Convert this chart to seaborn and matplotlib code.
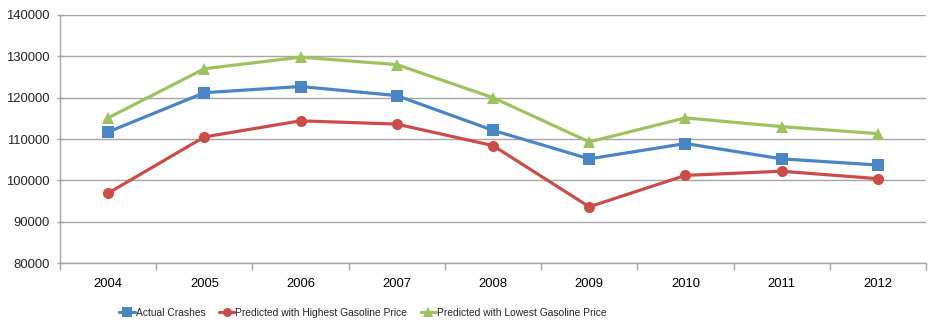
import matplotlib
matplotlib.use("Agg")
import matplotlib.pyplot as plt
import seaborn as sns
import pandas as pd
from matplotlib.ticker import FixedLocator
from matplotlib.lines import Line2D

years = ["2004", "2005", "2006", "2007", "2008", "2009", "2010", "2011", "2012"]
actual = [111700, 121200, 122700, 120500, 112100, 105200, 108900, 105200, 103700]
highest = [96900, 110500, 114400, 113600, 108400, 93600, 101200, 102200, 100400]
lowest = [115100, 127000, 129800, 128000, 120000, 109300, 115100, 113000, 111300]
series_names = ["Actual Crashes", "Predicted with Highest Gasoline Price",
                "Predicted with Lowest Gasoline Price"]
yticks = [80000, 90000, 100000, 110000, 120000, 130000, 140000]

colors = ["#4A85C6", "#CC4C4C", "#9CC35F"]
markers = ["s", "o", "^"]

df = pd.DataFrame({
    "year": years * 3,
    "value": actual + highest + lowest,
    "series": sum([[n] * len(years) for n in series_names], []),
})

sns.set_theme(style="white")
plt.rcParams["font.family"] = ["Liberation Sans", "DejaVu Sans"]

fig = plt.figure(figsize=(9.4, 3.29), dpi=100)
ax = fig.add_axes([60 / 940, 1 - 263 / 329, 866 / 940, 248 / 329])

sns.lineplot(data=df, x="year", y="value", hue="series", style="series",
             palette=dict(zip(series_names, colors)),
             markers=dict(zip(series_names, markers)),
             dashes=False, sort=False, linewidth=2.3, markersize=8,
             markeredgewidth=0, ax=ax, legend=False)

ax.set_xlim(-0.5, len(years) - 0.5)
ax.set_ylim(80000, 140000)
ax.set_yticks(yticks)
ax.set_yticklabels([str(v) for v in yticks])
ax.set_xlabel("")
ax.set_ylabel("")
ax.grid(axis="y", color="#A6A6A6", linewidth=1.0)
ax.set_axisbelow(True)
for s in ["top", "right"]:
    ax.spines[s].set_visible(False)
for s in ["left", "bottom"]:
    ax.spines[s].set_color("#A6A6A6")
    ax.spines[s].set_linewidth(1.0)

# category boundary ticks on x axis
ax.xaxis.set_minor_locator(FixedLocator([i - 0.5 for i in range(len(years) + 1)]))
ax.tick_params(axis="x", which="minor", length=5, color="#A6A6A6", width=1, direction="out", bottom=True)
ax.tick_params(axis="x", which="major", length=0, labelsize=9.4, pad=11, colors="black")
ax.tick_params(axis="y", which="major", length=5, color="#A6A6A6", width=1, direction="inout",
               labelsize=9.4, pad=5, left=True)

handles = [Line2D([0], [0], color=c, marker=m, linewidth=2.3, markersize=6.5, markeredgewidth=0)
           for c, m in zip(colors, markers)]
leg = fig.legend(handles, series_names, loc="center", bbox_to_anchor=(363 / 940, 1 - 313 / 329),
                 ncol=3, frameon=False, handlelength=1.5, handletextpad=0.1, columnspacing=1.3,
                 prop={"size": 7.4})

fig.savefig("out.png", dpi=100)
